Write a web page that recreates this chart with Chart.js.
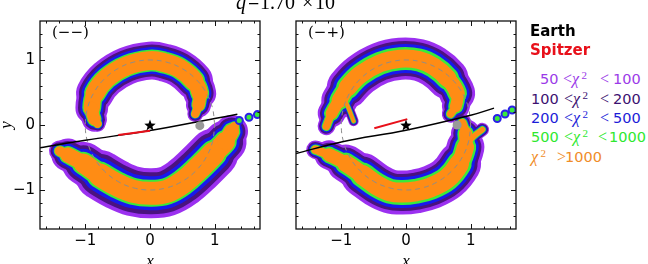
<!DOCTYPE html>
<html><head><meta charset="utf-8">
<script src="https://cdn.jsdelivr.net/npm/chart.js"></script>
<style>
html,body{margin:0;padding:0;background:#fff}
body{width:648px;height:264px;overflow:hidden;position:relative}
canvas{position:absolute;top:0}
.t{position:absolute;white-space:nowrap;line-height:1}
.sans{font-family:"DejaVu Sans",sans-serif}
.serif{font-family:"Liberation Serif","DejaVu Serif",serif}
.dser{font-family:"DejaVu Serif",serif}
.leg{position:absolute;left:530px;width:118px;height:20px}
.leg span{position:absolute;white-space:nowrap;line-height:1}
.n{font-family:"DejaVu Sans",sans-serif;font-size:14.5px;top:0}
.m{font-family:"Liberation Serif",serif;font-size:16px;top:-1px}
.s{font-family:"Liberation Serif",serif;font-size:11px;top:-2px}
</style></head><body>
<canvas id="c1" width="270" height="264" style="left:0"></canvas>
<canvas id="c2" width="270" height="264" style="left:256px"></canvas>

<div class="t serif" style="left:236px;top:-8.3px;font-size:20px;font-style:italic">q</div>
<div class="t serif" style="left:248px;top:-8.3px;font-size:20px">=</div>
<div class="t serif" style="left:260px;top:-8.3px;font-size:20px">1.70</div>
<div class="t serif" style="left:302px;top:-8.3px;font-size:20px">×</div>
<div class="t serif" style="left:315px;top:-8.3px;font-size:20px">10</div>
<div class="t serif" style="left:334px;top:-12px;font-size:14px">−4</div>

<div class="t dser" style="left:52px;top:25.3px;font-size:15px">(−−)</div>
<div class="t dser" style="left:308px;top:25.3px;font-size:15px">(−+)</div>

<div class="t sans" style="left:530px;top:24px;font-size:15px;font-weight:bold;color:#000">Earth</div>
<div class="t sans" style="left:530px;top:42.5px;font-size:15px;font-weight:bold;color:#e8101a">Spitzer</div>

<div class="leg" style="top:72.2px;color:#9b3ae8"><span class="n" style="left:10px">50</span><span class="m" style="left:33px">&lt;</span><span class="m" style="left:42px;font-style:italic">χ</span><span class="s" style="left:51.5px">2</span><span class="m" style="left:70px">&lt;</span><span class="n" style="left:83px">100</span></div>
<div class="leg" style="top:91.7px;color:#3c1070"><span class="n" style="left:1px">100</span><span class="m" style="left:34px">&lt;</span><span class="m" style="left:43px;font-style:italic">χ</span><span class="s" style="left:52.5px">2</span><span class="m" style="left:70px">&lt;</span><span class="n" style="left:83px">200</span></div>
<div class="leg" style="top:111px;color:#1c1cd8"><span class="n" style="left:1px">200</span><span class="m" style="left:34px">&lt;</span><span class="m" style="left:43px;font-style:italic">χ</span><span class="s" style="left:52.5px">2</span><span class="m" style="left:70px">&lt;</span><span class="n" style="left:83px">500</span></div>
<div class="leg" style="top:130.4px;color:#2ee82e"><span class="n" style="left:1px">500</span><span class="m" style="left:34px">&lt;</span><span class="m" style="left:43px;font-style:italic">χ</span><span class="s" style="left:52.5px">2</span><span class="m" style="left:68px">&lt;</span><span class="n" style="left:79px">1000</span></div>
<div class="leg" style="top:149.7px;color:#f08c28"><span class="m" style="left:1px;font-style:italic">χ</span><span class="s" style="left:10.5px">2</span><span class="m" style="left:27px">&gt;</span><span class="n" style="left:35px">1000</span></div>

<script>
// ---------------- data ----------------
const xTickValues = [-1, 0, 1];
const yTickValues = [-1, 0, 1];
const minorTickValues = [-1.6,-1.4,-1.2,-1.0,-0.8,-0.6,-0.4,-0.2,0,0.2,0.4,0.6,0.8,1.0,1.2,1.4,1.6];

// dashed reference ring (unit circle)
const ringPoints = [[1,0],[0.966,0.259],[0.866,0.5],[0.707,0.707],[0.5,0.866],[0.259,0.966],[0,1],
  [-0.259,0.966],[-0.5,0.866],[-0.707,0.707],[-0.866,0.5],[-0.966,0.259],[-1,0],[-0.966,-0.259],
  [-0.866,-0.5],[-0.707,-0.707],[-0.5,-0.866],[-0.259,-0.966],[0,-1],[0.259,-0.966],[0.5,-0.866],
  [0.707,-0.707],[0.866,-0.5],[0.966,-0.259],[1,0]];

// panel (−−)
const p1TopArc = [[0.70,0.17],[0.75,0.31],[0.77,0.49],[0.68,0.68],[0.46,0.87],[0.22,0.96],[0.00,0.99],
  [-0.36,0.91],[-0.67,0.72],[-0.85,0.49],[-0.90,0.26],[-0.86,0.09],[-0.81,0.02]];
const p1BottomArc = [[-1.40,-0.40],[-1.27,-0.46],[-1.03,-0.59],[-0.77,-0.77],[-0.51,-0.92],[-0.26,-1.02],
  [0.00,-1.05],[0.26,-1.02],[0.51,-0.88],[0.77,-0.65],[0.98,-0.44],[1.16,-0.26],[1.26,-0.10],[1.30,-0.03]];
const p1Blobs = [[1.38,0.07],[1.53,0.12],[1.66,0.16]];
const p1Trajectory = [[-1.70,-0.35],[-1.00,-0.235],[0.00,-0.085],[1.00,0.10],[1.35,0.165]];
const p1Spitzer = [[-0.49,-0.155],[0.00,-0.09]];
const p1Lens = [[0.77,-0.01]];

// panel (−+)
const p2TopArc = [[0.69,0.17],[0.77,0.29],[0.79,0.49],[0.64,0.72],[0.43,0.90],[0.20,1.00],[-0.09,1.02],
  [-0.40,0.95],[-0.70,0.78],[-0.90,0.58],[-1.03,0.38],[-1.15,0.18],[-1.23,-0.02]];
const p2TopBranch = [[-0.97,0.44],[-0.88,0.24],[-0.81,0.06]];
const p2BottomArc = [[-1.40,-0.38],[-1.19,-0.46],[-0.93,-0.59],[-0.67,-0.77],[-0.46,-0.92],[-0.25,-1.02],
  [-0.05,-1.04],[0.15,-1.02],[0.38,-0.96],[0.64,-0.82],[0.82,-0.60],[0.92,-0.34],[0.92,-0.13],[0.87,0.03]];
const p2BottomBranch = [[0.90,-0.34],[1.04,-0.18],[1.18,-0.07]];
const p2Blobs = [[1.41,0.10],[1.53,0.17],[1.64,0.23]];
const p2Trajectory = [[-1.70,-0.44],[-1.00,-0.26],[0.00,-0.08],[1.00,0.15],[1.36,0.26]];
const p2Spitzer = [[-0.49,-0.05],[0.02,0.09]];
const p2Lens = [[0.79,0.00]];

const sourcePos = [[0,0]];

// ---------------- styling ----------------
const BAND_COLORS = ['#9b30f0','#4a1280','#1818ee','#3aea3a','#ff8c14'];
const xy = pts => pts.map(p => ({x:p[0], y:p[1]}));
const taper = (i, n) => { const k = Math.min(i, n - 2 - i); return [0.42, 0.66, 0.86][k] ?? 1; };

function bandSets(pts, widths) {
  const n = pts.length;
  return widths.map((w, li) => ({
    data: xy(pts), showLine: true, borderColor: BAND_COLORS[li], backgroundColor: BAND_COLORS[li],
    borderWidth: w, tension: 0.4, pointRadius: 0, pointHoverRadius: 0,
    borderCapStyle: 'round', borderJoinStyle: 'round', order: 30 - li, clip: 0,
    segment: { borderWidth: ctx => w * taper(ctx.p0DataIndex, n) }
  }));
}

function starImage(size) {
  const c = document.createElement('canvas'); c.width = c.height = size;
  const g = c.getContext('2d'); g.fillStyle = '#000'; g.beginPath();
  for (let i = 0; i < 10; i++) {
    const r = i % 2 ? size * 0.21 : size * 0.5, a = -Math.PI / 2 + i * Math.PI / 5;
    g.lineTo(size / 2 + r * Math.cos(a), size / 2 + 0.6 + r * Math.sin(a));
  }
  g.closePath(); g.fill(); return c;
}
const STAR = starImage(12);

const frameTicks = {
  id: 'frameTicks',
  afterDatasetsDraw(chart) {
    const {ctx, chartArea: a, scales: {x, y}} = chart;
    ctx.save(); ctx.strokeStyle = '#111'; ctx.lineWidth = 1; ctx.beginPath();
    minorTickValues.forEach(v => {
      const px = Math.round(x.getPixelForValue(v)) + 0.5;
      if (px > a.left + 1 && px < a.right - 1) {
        const L = xTickValues.includes(v) ? 5 : 2.5;
        ctx.moveTo(px, a.bottom); ctx.lineTo(px, a.bottom - L);
        ctx.moveTo(px, a.top); ctx.lineTo(px, a.top + L);
      }
      const py = Math.round(y.getPixelForValue(v)) + 0.5;
      if (py > a.top + 1 && py < a.bottom - 1) {
        const L = yTickValues.includes(v) ? 5 : 2.5;
        ctx.moveTo(a.left, py); ctx.lineTo(a.left + L, py);
        ctx.moveTo(a.right, py); ctx.lineTo(a.right - L, py);
      }
    });
    ctx.stroke();
    ctx.lineWidth = 1.3; ctx.strokeRect(a.left, a.top, a.right - a.left, a.bottom - a.top);
    ctx.restore();
  }
};

const fmt = v => v < 0 ? '\u2212' + Math.abs(v) : String(v);

function makePanel(id, cfg) {
  const datasets = [];
  cfg.arcs.forEach(arc => datasets.push(...bandSets(arc.pts, arc.w)));
  datasets.push({ data: xy(ringPoints), showLine: true, borderColor: '#8c8c8c', borderWidth: 1,
    borderDash: [5, 4], tension: 0.4, pointRadius: 0, order: 6, clip: 0 });
  datasets.push({ data: xy(cfg.blobs), showLine: false, pointRadius: 3.5, pointBackgroundColor: '#3aea3a',
    pointBorderColor: '#2a20e8', pointBorderWidth: 2, order: 5, clip: 0 });
  datasets.push({ data: xy(cfg.traj), showLine: true, borderColor: '#000', borderWidth: 1.5,
    tension: 0.4, pointRadius: 0, order: 4, clip: 0 });
  datasets.push({ data: xy(cfg.spitzer), showLine: true, borderColor: '#e8101a', borderWidth: 2,
    tension: 0, pointRadius: 0, order: 3, clip: 0 });
  datasets.push({ data: xy(cfg.lens), showLine: false, pointRadius: 4.5, pointBackgroundColor: '#999',
    pointBorderColor: '#999', pointBorderWidth: 0, order: 2, clip: 0 });
  datasets.push({ data: xy(sourcePos), showLine: false, pointStyle: STAR, pointRadius: 6, order: 1, clip: false });

  return new Chart(document.getElementById(id), {
    type: 'scatter',
    data: { datasets },
    plugins: [frameTicks],
    options: {
      responsive: false, animation: false, devicePixelRatio: 1,
      layout: { padding: { left: 0, right: 10, top: 21, bottom: 0 } },
      plugins: { legend: { display: false }, tooltip: { enabled: false } },
      events: [],
      scales: {
        x: {
          type: 'linear', min: -1.7, max: 1.7,
          grid: { display: false, drawTicks: false }, border: { display: false },
          afterBuildTicks: s => { s.ticks = xTickValues.map(v => ({ value: v })); },
          afterFit: s => { s.height = 35; },
          ticks: { color: '#000', padding: 3, autoSkip: false, maxRotation: 0,
                   font: { family: 'DejaVu Sans', size: 15 }, callback: v => fmt(v) },
          title: { display: true, text: 'x', color: '#000',
                   font: { family: 'Liberation Serif', size: 17, style: 'italic', lineHeight: 1 },
                   padding: { top: 0, bottom: -6 } }
        },
        y: {
          type: 'linear', min: -1.6, max: 1.6,
          grid: { display: false, drawTicks: false }, border: { display: false },
          afterBuildTicks: s => { s.ticks = yTickValues.map(v => ({ value: v })); },
          afterFit: s => { s.width = 40; },
          ticks: { display: cfg.yLabels, color: '#000', padding: 5, autoSkip: false,
                   font: { family: 'DejaVu Sans', size: 15 }, callback: v => fmt(v) },
          title: { display: cfg.yLabels, text: 'y', color: '#000',
                   font: { family: 'Liberation Serif', size: 17, style: 'italic', lineHeight: 1 },
                   padding: { top: -2, bottom: 0 } }
        }
      }
    }
  });
}

makePanel('c1', {
  yLabels: true,
  arcs: [
    { pts: p1TopArc, w: [38, 32, 27, 22, 19] },
    { pts: p1BottomArc, w: [50, 42, 34, 27, 23] }
  ],
  blobs: p1Blobs, traj: p1Trajectory, spitzer: p1Spitzer, lens: p1Lens
});
makePanel('c2', {
  yLabels: false,
  arcs: [
    { pts: p2TopArc, w: [42, 35, 29, 23, 18] },
    { pts: p2TopBranch, w: [24, 20, 16, 12, 9] },
    { pts: p2BottomArc, w: [44, 37, 31, 25, 20] },
    { pts: p2BottomBranch, w: [32, 27, 22, 17, 13] }
  ],
  blobs: p2Blobs, traj: p2Trajectory, spitzer: p2Spitzer, lens: p2Lens
});
</script>
</body></html>
